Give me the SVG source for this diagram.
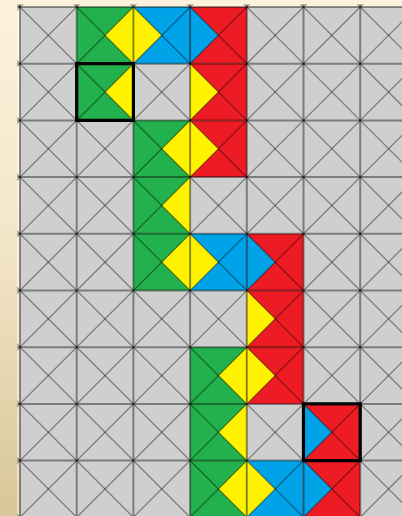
<svg xmlns="http://www.w3.org/2000/svg" xmlns:xlink="http://www.w3.org/1999/xlink" width="402" height="516" viewBox="0 0 402 516">
<style>
.ln{fill:none;stroke:#000;stroke-opacity:0.4;vector-effect:non-scaling-stroke}
.gl{stroke-width:2}
.dg{stroke-width:1.3}
.hl{fill:none;stroke:#000;stroke-width:3.2;vector-effect:non-scaling-stroke}
.g{fill:#22B14C}.y{fill:#FFF200}.b{fill:#00A2E8}.r{fill:#ED1C24}
</style>
<defs>
<linearGradient id="bg" x1="0" y1="0" x2="0" y2="1">
<stop offset="0" stop-color="#FCF1DD"/>
<stop offset="0.5" stop-color="#F2E5C6"/>
<stop offset="1" stop-color="#D7C698"/>
</linearGradient>
<g id="GY"><rect class="g" width="1" height="1"/><polygon class="y" points="1,0 1,1 0.5,0.5"/></g>
<g id="YR"><rect class="r" width="1" height="1"/><polygon class="y" points="0,0 0,1 0.5,0.5"/></g>
<g id="YB"><rect class="b" width="1" height="1"/><polygon class="y" points="0,0 0,1 0.5,0.5"/></g>
<g id="BR"><rect class="r" width="1" height="1"/><polygon class="b" points="0,0 0,1 0.5,0.5"/></g>
<clipPath id="gc"><rect x="-0.05" y="-0.05" width="7.2" height="9.3"/></clipPath>
</defs>
<rect width="402" height="516" fill="url(#bg)"/>
<rect x="17" y="7" width="2.5" height="509" fill="#fff" opacity="0.45"/>
<g transform="translate(20 7) scale(56.7)">
<rect id="board" x="0" y="0" width="7.2" height="9.3" fill="#CFCFCF"/>
<g id="tiles">
<use id="c1-0" href="#GY" x="1" y="0"/>
<use id="c2-0" href="#YB" x="2" y="0"/>
<use id="c3-0" href="#BR" x="3" y="0"/>
<use id="c1-1" href="#GY" x="1" y="1"/>
<use id="c3-1" href="#YR" x="3" y="1"/>
<use id="c2-2" href="#GY" x="2" y="2"/>
<use id="c3-2" href="#YR" x="3" y="2"/>
<use id="c2-3" href="#GY" x="2" y="3"/>
<use id="c2-4" href="#GY" x="2" y="4"/>
<use id="c3-4" href="#YB" x="3" y="4"/>
<use id="c4-4" href="#BR" x="4" y="4"/>
<use id="c4-5" href="#YR" x="4" y="5"/>
<use id="c3-6" href="#GY" x="3" y="6"/>
<use id="c4-6" href="#YR" x="4" y="6"/>
<use id="c3-7" href="#GY" x="3" y="7"/>
<use id="c5-7" href="#BR" x="5" y="7"/>
<use id="c3-8" href="#GY" x="3" y="8"/>
<use id="c4-8" href="#YB" x="4" y="8"/>
<use id="c5-8" href="#BR" x="5" y="8"/>
</g>
<g id="lines" clip-path="url(#gc)">
<path class="ln gl" d="M0 -0.1V9.4M1 -0.1V9.4M2 -0.1V9.4M3 -0.1V9.4M4 -0.1V9.4M5 -0.1V9.4M6 -0.1V9.4M7 -0.1V9.4"/>
<path class="ln gl" d="M-0.1 0H7.3M-0.1 1H7.3M-0.1 2H7.3M-0.1 3H7.3M-0.1 4H7.3M-0.1 5H7.3M-0.1 6H7.3M-0.1 7H7.3M-0.1 8H7.3M-0.1 9H7.3"/>
<path class="ln dg" d="M-9.5 -0.5L1 10M-8.5 -0.5L2 10M-7.5 -0.5L3 10M-6.5 -0.5L4 10M-5.5 -0.5L5 10M-4.5 -0.5L6 10M-3.5 -0.5L7 10M-2.5 -0.5L8 10M-1.5 -0.5L9 10M-0.5 -0.5L10 10M0.5 -0.5L11 10M1.5 -0.5L12 10M2.5 -0.5L13 10M3.5 -0.5L14 10M4.5 -0.5L15 10M5.5 -0.5L16 10M6.5 -0.5L17 10M7.5 -0.5L18 10"/>
<path class="ln dg" d="M0.5 -0.5L-10 10M1.5 -0.5L-9 10M2.5 -0.5L-8 10M3.5 -0.5L-7 10M4.5 -0.5L-6 10M5.5 -0.5L-5 10M6.5 -0.5L-4 10M7.5 -0.5L-3 10M8.5 -0.5L-2 10M9.5 -0.5L-1 10M10.5 -0.5L0 10M11.5 -0.5L1 10M12.5 -0.5L2 10M13.5 -0.5L3 10M14.5 -0.5L4 10M15.5 -0.5L5 10M16.5 -0.5L6 10M17.5 -0.5L7 10"/>
</g>
<g id="highlights">
<rect id="hl1" class="hl" x="1" y="1" width="1" height="1"/>
<rect id="hl2" class="hl" x="5" y="7" width="1" height="1"/>
</g>
</g>
</svg>
